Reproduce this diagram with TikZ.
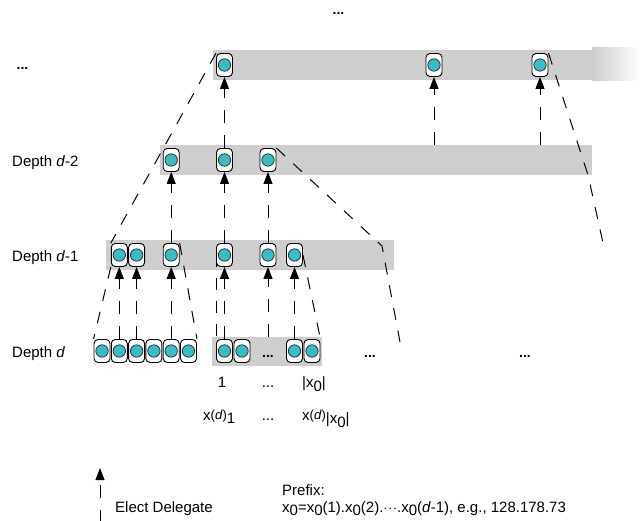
\documentclass[tikz,border=0pt]{standalone}
\usepackage{fontspec}
\setmainfont{Liberation Sans}
\usetikzlibrary{arrows.meta,calc}
\definecolor{barg}{RGB}{206,206,206}
\definecolor{tealc}{RGB}{54,190,196}
\newcommand{\lowr}[1]{\raisebox{-0.45ex}{#1}}
\newcommand{\xd}{x\raisebox{0.08ex}{\fontsize{13}{13}\selectfont(\textit{d})}}
\tikzset{
  bar/.style={fill=barg, draw=none},
  peer/.style={draw=black, line width=0.9pt, fill=white, rounded corners=4pt,
    minimum width=16pt, minimum height=23pt, inner sep=0pt,
    path picture={\fill[tealc, draw=black!85, line width=0.7pt]
      (path picture bounding box.center) circle (6.2pt);}},
  elect/.style={line width=1pt, dash pattern=on 13pt off 12pt,
    -{Triangle[length=12pt,width=9pt]}},
  cone/.style={line width=1pt, dash pattern=on 12pt off 11pt},
  lbl/.style={inner sep=0pt, anchor=base west},
  dots/.style={inner sep=0pt, anchor=base},
  bdots/.style={inner sep=0pt, anchor=base, font=\fontsize{14}{17}\selectfont\bfseries},
}
\begin{document}
\begin{tikzpicture}[x=1pt, y=-1pt, font=\fontsize{15}{17}\selectfont]
\useasboundingbox (0,0) rectangle (640,521);
% bars
\fill[bar] (213,50) rectangle (592,80);
\shade[left color=barg, right color=white] (592,48) rectangle (640,81);
\fill[bar] (160,145) rectangle (592,175);
\fill[bar] (106,240) rectangle (394,270);
\fill[bar] (212,337) rectangle (322,366);
% top level
\node[peer] (t1) at (224.5,65) {};
\node[peer] (t2) at (434,65) {};
\node[peer] (t3) at (540,65) {};
% depth d-2
\node[peer] (u1) at (171.2,160) {};
\node[peer] (u2) at (224.5,160) {};
\node[peer] (u3) at (268,160) {};
% depth d-1
\node[peer] (m1) at (119.3,255) {};
\node[peer] (m2) at (136.6,255) {};
\node[peer] (m3) at (171.2,255) {};
\node[peer] (m4) at (224.5,255) {};
\node[peer] (m5) at (268,255) {};
\node[peer] (m6) at (294.5,255) {};
% depth d
\node[peer] (l1) at (102,351) {};
\node[peer] (l2) at (119.3,351) {};
\node[peer] (l3) at (136.6,351) {};
\node[peer] (l4) at (153.9,351) {};
\node[peer] (l5) at (171.2,351) {};
\node[peer] (l6) at (188.5,351) {};
\node[peer] (r1) at (224.5,351) {};
\node[peer] (r2) at (242,351) {};
\node[peer] (r3) at (294.5,351) {};
\node[peer] (r4) at (312,351) {};
% free ends
\coordinate (b1) at (434,145);
\coordinate (b2) at (540,145);
\coordinate (b3) at (268,337);
\coordinate (c1) at (382,246);
\coordinate (c2) at (400,342);
\coordinate (c3) at (588,175);
\coordinate (c4) at (603,243);
\coordinate (e1) at (100,523);
\coordinate (e2) at (100,468);
% elect arrows
\draw[elect] (u2) -- (t1);
\draw[elect] (b1) -- (t2);
\draw[elect] (b2) -- (t3);
\draw[elect] (m3) -- (u1);
\draw[elect] (m4) -- (u2);
\draw[elect] (m5) -- (u3);
\draw[elect] (l2) -- (m1);
\draw[elect] (l3) -- (m2);
\draw[elect] (l5) -- (m3);
\draw[elect] (r1) -- (m4);
\draw[elect] (b3) -- (m5);
\draw[elect] (r3) -- (m6);
% cone boundaries
\draw[cone] (t1.north west) -- (m1.north west);
\draw[cone] (m1.south west) -- (l1.north west);
\draw[cone] (m3.north east) -- (l6.north east);
\draw[cone] (u3.north east) -- (c1) -- (c2);
\draw[cone] (m6.east) -- (r4.north east);
\draw[cone] (m4.west) -- (r1.west);
\draw[cone] (t3.north east) -- (c3) -- (c4);
% labels
\node[bdots] (dtop) at (338.5,14.5) {...};
\node[bdots] (dlev) at (22.5,70) {...};
\node[lbl] (ld2) at (12,167) {Depth \textit{d}-2};
\node[lbl] (ld1) at (12,262) {Depth \textit{d}-1};
\node[lbl] (ld0) at (12,357) {Depth \textit{d}};
\node[bdots] (dbar) at (268,357) {...};
\node[bdots] (dr1) at (370,357) {...};
\node[bdots] (dr2) at (525,357) {...};
\node[dots] (n1) at (222,388) {1};
\node[dots] (n2) at (268,388) {...};
\node[lbl] (n3) at (302,388) {|x\lowr{0}|};
\node[lbl] (x1) at (203,420) {\xd\lowr{1}};
\node[dots] (x2) at (268,420) {...};
\node[lbl] (x3) at (302,420) {\xd\lowr{|x\lowr{0}|}};
\draw[elect] (e1) -- (e2);
\node[lbl] (elect) at (115,512) {Elect Delegate};
\node[lbl] (pref) at (282,495) {Prefix:};
\node[lbl] (pref2) at (282,512) {x\lowr{0}=x\lowr{0}(1).x\lowr{0}(2).$\cdot\!\cdot\!\cdot$.x\lowr{0}(\textit{d}-1), e.g., 128.178.73};
\end{tikzpicture}
\end{document}
